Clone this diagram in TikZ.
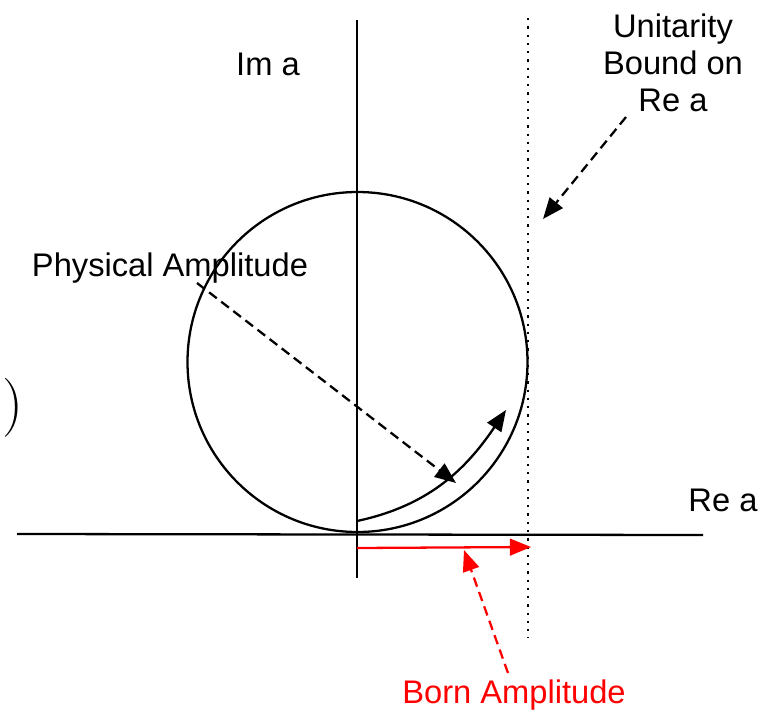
\documentclass[tikz,border=0pt]{standalone}
\usepackage{fontspec}
\setmainfont{Liberation Sans}
\usetikzlibrary{arrows.meta}
\tikzset{
	lbl/.style={inner sep=0pt, font=\fontsize{18.6}{22}\selectfont, align=center},
	tip/.style={-{Triangle[length=12pt,width=9.5pt]}},
	dashline/.style={line width=1.3pt, dash pattern=on 5.5pt off 3.2pt, tip},
}

\begin{document}
\begin{tikzpicture}[x=0.02cm, y=-0.02cm]
	\useasboundingbox (0,0) rectangle (768,714);
	\coordinate(ImTop) at (357,20);
	\coordinate(ImBot) at (357,578);
	\coordinate(ReL) at (17,534);
	\coordinate(ReR) at (703,535);
	\coordinate(O) at (357.5,362);
	\coordinate(UbTop) at (528,18);
	\coordinate(UbBot) at (528,638);
	
	\draw[line width=1.3pt]  (ImTop)--(ImBot);
	\draw[line width=1.3pt]  (ReL)--(ReR);
	\draw[line width=1.3pt]  (O) circle (170);
	\draw[line width=1.4pt, dash pattern=on 1.3pt off 3.4pt]  (UbTop)--(UbBot);
	
	\node[lbl](ImA) at (268,64){Im a};
	\node[lbl](ReA) at (723,500){Re a};
	\node[lbl](Unit) at (673,63){Unitarity\\[-1pt]Bound on\\[-1pt]Re a};
	\node[lbl](Phys) at (170,268){Physical Amplitude};
	\node[lbl, text=red](Born) at (514,695){Born Amplitude};
	\node[inner sep=0pt, scale=1.35](Paren) at (13,408){\fontsize{24.88}{25}\selectfont$)$};
	
	% arrows
	\coordinate(PhysStart) at (197,283);
	\coordinate(PhysEnd) at (456,483);
	\draw[dashline]  (PhysStart)--(PhysEnd);
	\coordinate(UnitStart) at (626,117);
	\coordinate(UnitEnd) at (543,219);
	\draw[dashline]  (UnitStart)--(UnitEnd);
	\coordinate(ArcStart) at (357,521);
	\coordinate(ArcEnd) at (506,410);
	\draw[line width=1.3pt, tip]  (ArcStart) to[out=12,in=236] (ArcEnd);
	\coordinate(BornStart) at (357,548);
	\coordinate(BornEnd) at (531,547);
	\draw[red, line width=1.3pt, tip]  (BornStart)--(BornEnd);
	\coordinate(BornTail) at (508,673);
	\coordinate(BornTip) at (464,550);
	\draw[dashline, red]  (BornTail)--(BornTip);
\end{tikzpicture}
\end{document}
